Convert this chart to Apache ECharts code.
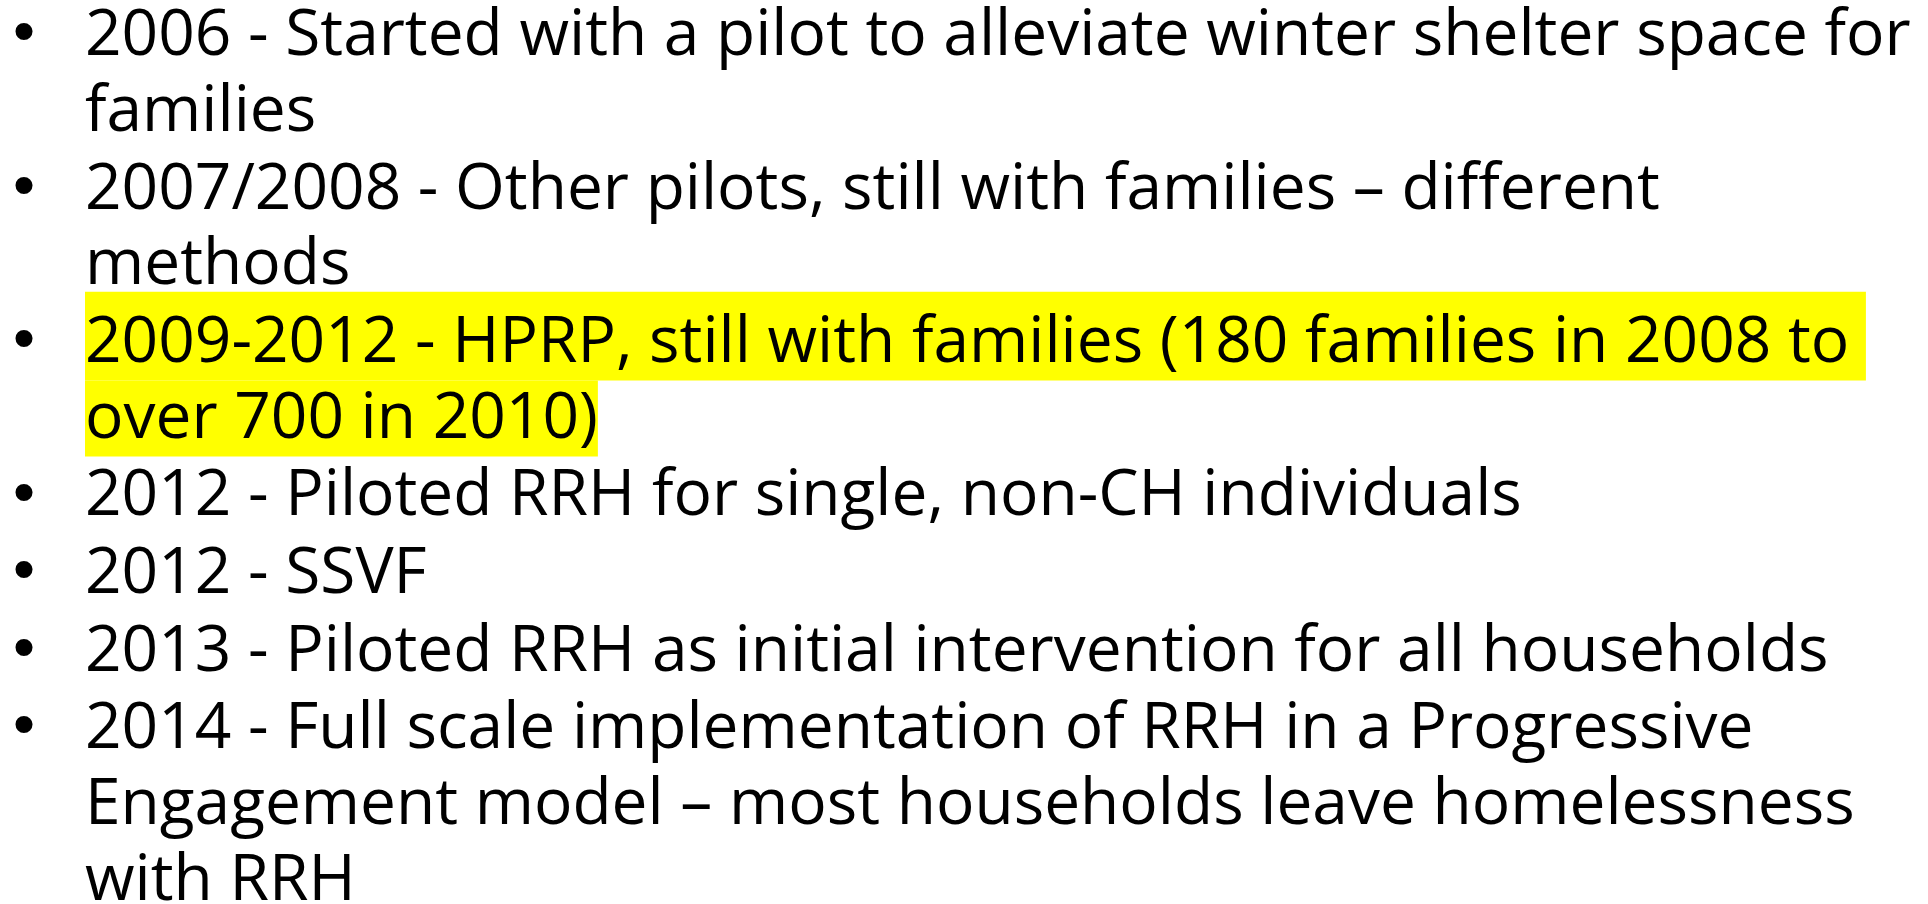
<!DOCTYPE html>
<html>
<head>
<meta charset="utf-8">
<script src="https://cdn.jsdelivr.net/npm/echarts@6/dist/echarts.min.js"></script>
<style>
  html, body { margin: 0; padding: 0; background: #fff; }
  #slide { width: 1928px; height: 904px; }
</style>
</head>
<body>
<div id="slide"></div>
<script>
// bullet items, already wrapped the way the slide wraps them
var items = [
	['2006 - Started with a pilot to alleviate winter shelter space for', 'families'],
	['2007/2008 - Other pilots, still with families \u2013 different', 'methods'],
	['2009-2012 - HPRP, still with families (180 families in 2008 to', 'over 700 in 2010)'],
	['2012 - Piloted RRH for single, non-CH individuals'],
	['2012 - SSVF'],
	['2013 - Piloted RRH as initial intervention for all households'],
	['2014 - Full scale implementation of RRH in a Progressive', 'Engagement model \u2013 most households leave homelessness', 'with RRH']
];
var highlighted = [2];

var fontSize = 64;
var fontFamily = '"Open Sans", "Noto Sans", sans-serif';
var textX = 85;
var bulletX = 24;
var firstBase = 57;
var lineStep = 75.8;
var paraStep = 77.6;
var midOffset = 20; // baseline -> middle of the line

function graphRender() {
	var myChart = echarts.init(document.getElementById('slide'), null, { renderer: 'canvas' });

	var ctx = document.createElement('canvas').getContext('2d');
	ctx.font = fontSize + 'px ' + fontFamily;

	var elements = [];
	var rects = [];
	var base = firstBase;

	for (var i = 0; i < items.length; i++) {
		var lines = items[i];
		var bases = [];
		for (var j = 0; j < lines.length; j++) {
			if (j > 0) base += lineStep;
			bases.push(base);
		}

		if (highlighted.indexOf(i) >= 0) {
			for (var j = 0; j < lines.length; j++) {
				var last = j == lines.length - 1;
				var top = j == 0 ? bases[j] - 72 : bases[j] - 59;
				var bottom = last ? bases[j] + 17 : bases[j + 1] - 59;
				var w = ctx.measureText(lines[j] + (last ? '' : ' ')).width;
				rects.push({
					type: 'rect',
					shape: { x: textX, y: top, width: w, height: bottom - top },
					style: { fill: '#ffff00' },
					z: 1
				});
			}
		}

		elements.push({
			type: 'text',
			style: {
				text: '\u2022',
				x: bulletX,
				y: bases[0] - midOffset - 2,
				align: 'center',
				verticalAlign: 'middle',
				font: '63px "Liberation Sans", Arial, sans-serif',
				fill: '#000'
			},
			z: 2
		});

		for (var j = 0; j < lines.length; j++) {
			elements.push({
				type: 'text',
				style: {
					text: lines[j],
					x: textX,
					y: bases[j] - midOffset,
					align: 'left',
					verticalAlign: 'middle',
					font: fontSize + 'px ' + fontFamily,
					fill: '#000'
				},
				z: 2
			});
		}

		base += paraStep;
	}

	myChart.setOption({
		backgroundColor: '#ffffff',
		animation: false,
		graphic: rects.concat(elements)
	});
}
graphRender();
</script>
</body>
</html>
